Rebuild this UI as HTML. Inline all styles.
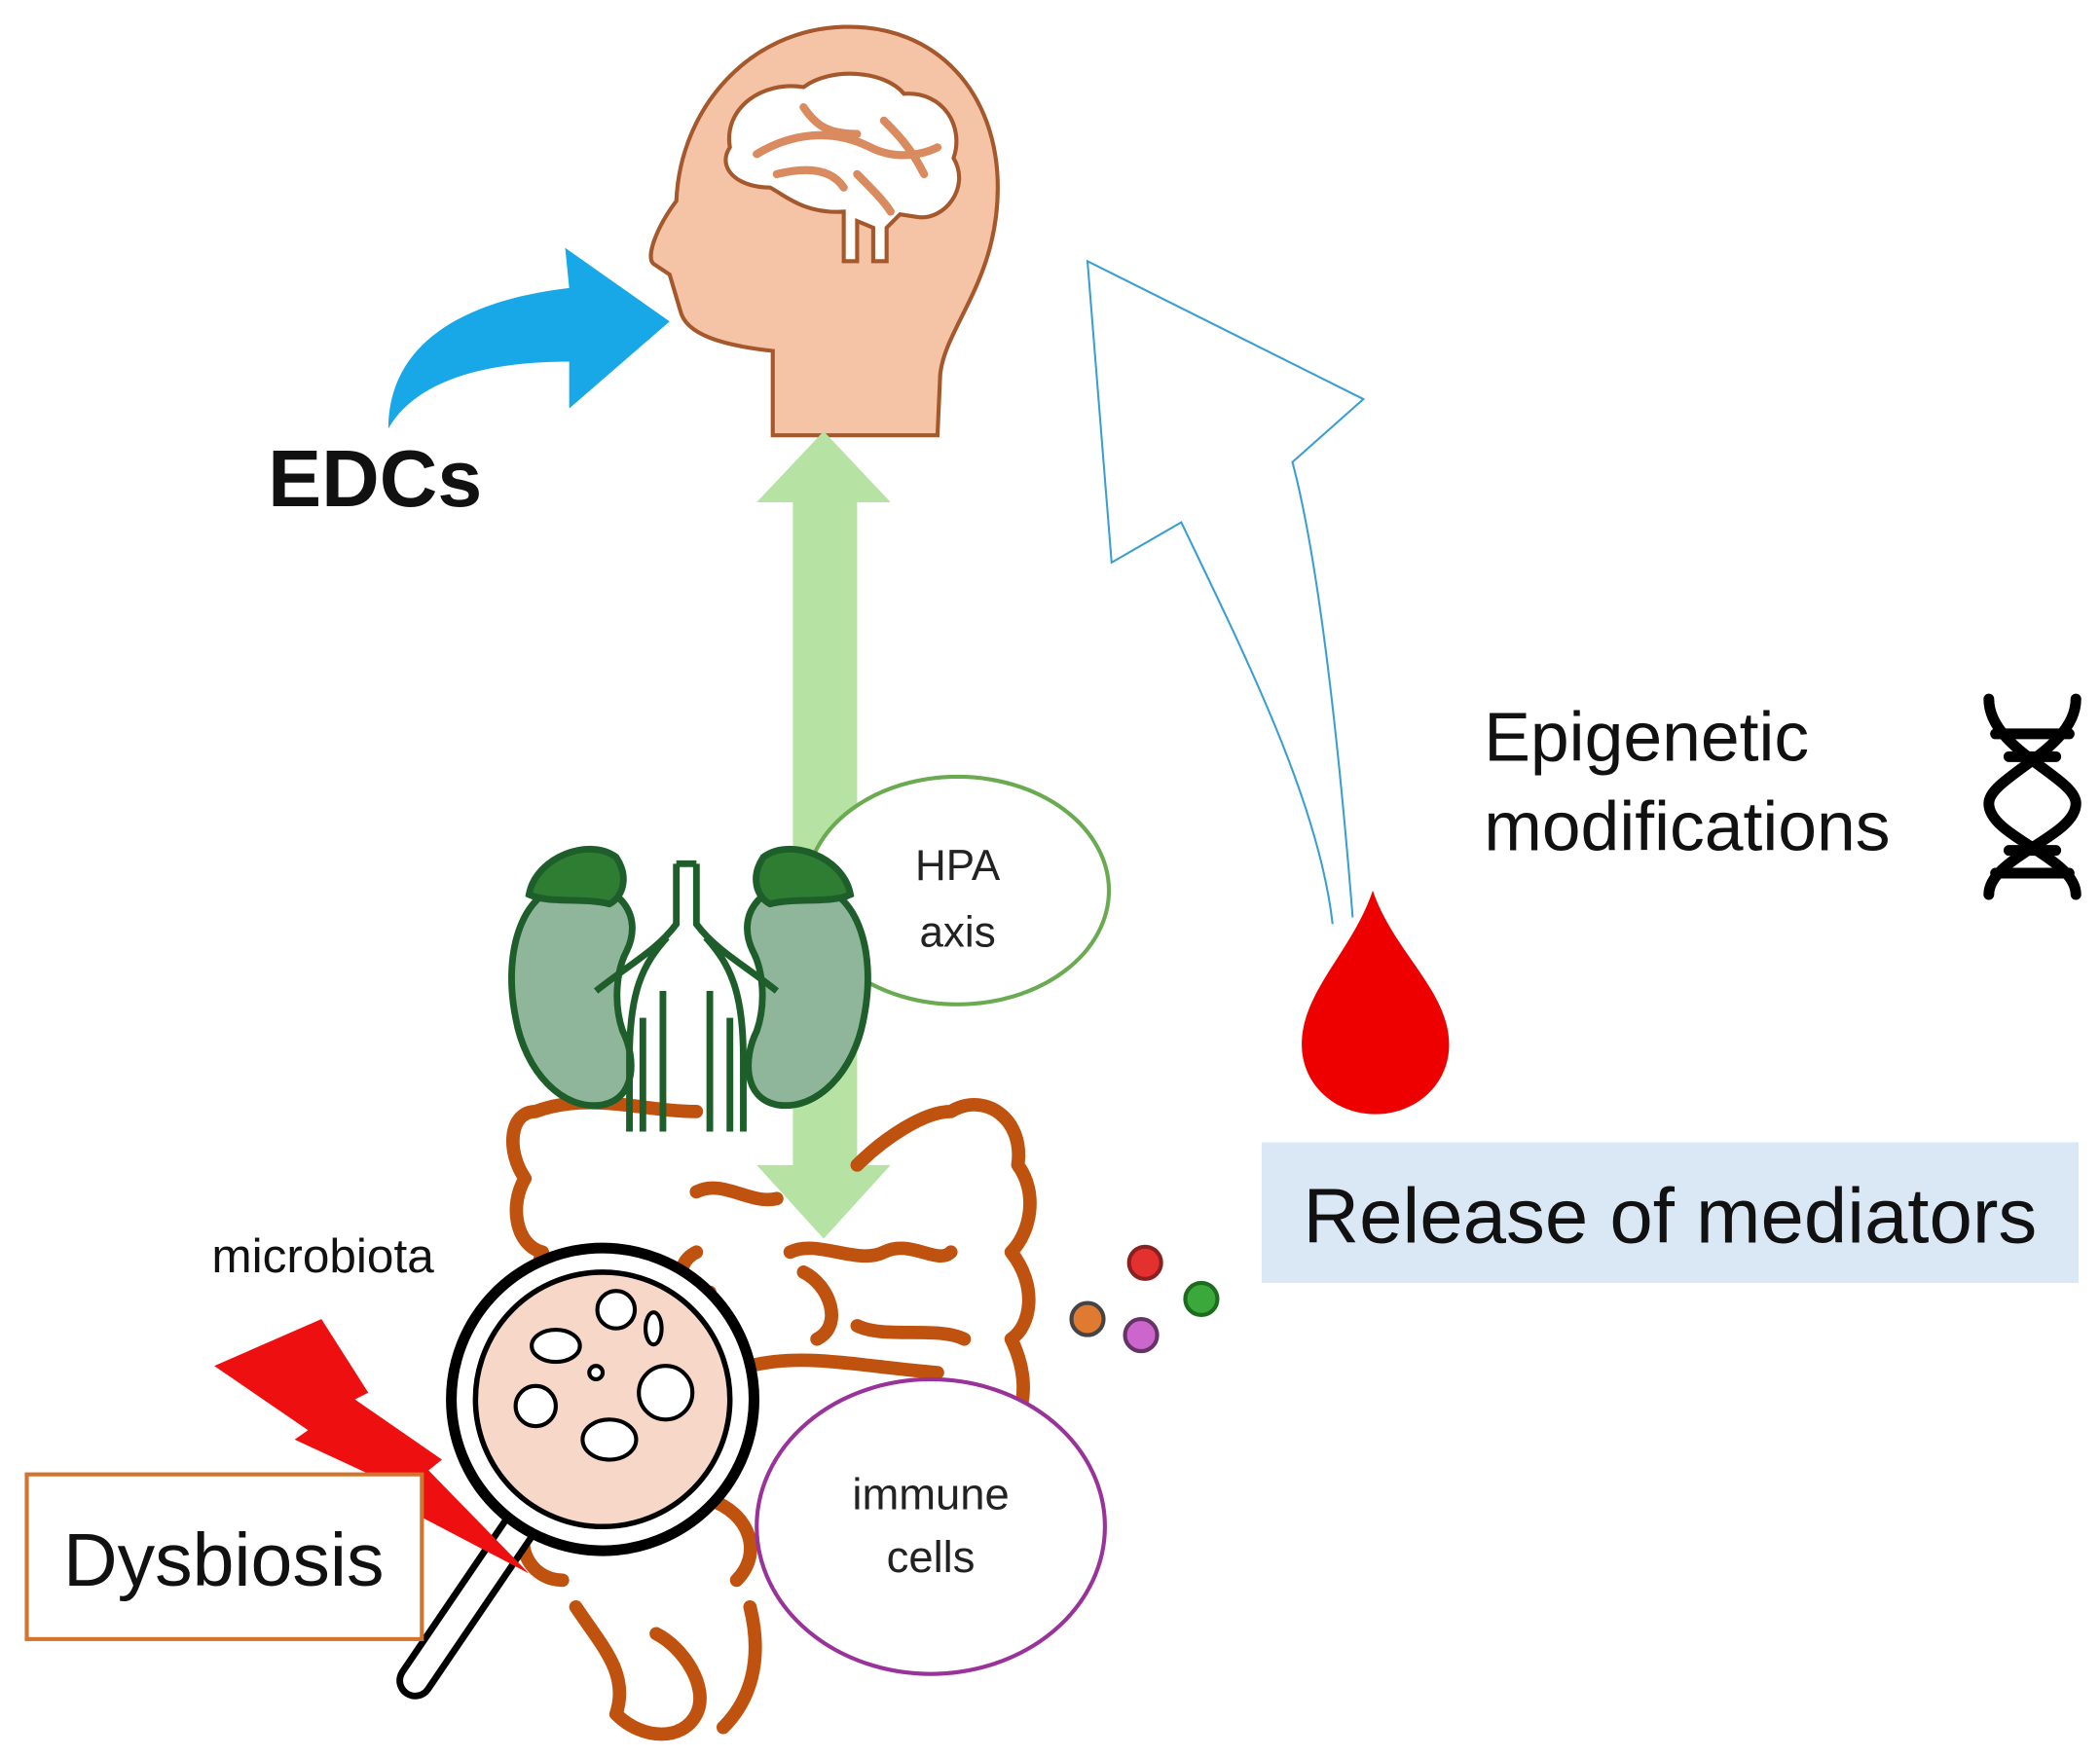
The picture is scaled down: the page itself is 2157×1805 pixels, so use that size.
<!DOCTYPE html>
<html><head><meta charset="utf-8"><style>html,body{margin:0;padding:0;background:#fff}svg{display:block}</style></head>
<body>
<svg width="2157" height="1805" viewBox="0 0 1568 1312" xmlns="http://www.w3.org/2000/svg">
<rect width="1568" height="1312" fill="#fff"/>
<path d="M577,325 L577,262 C540,258 512,250 508,232 L500,205 L488,197 C482,192 490,170 505,150 C508,80 560,22 630,20 C700,18 745,70 745,140 C745,210 705,245 702,280 L700,325 Z" fill="#f5c3a6" stroke="#a5582b" stroke-width="3"/>
<path d="M545,110 C540,80 570,60 600,65 C620,50 660,52 675,70 C705,68 720,95 712,118 C725,140 705,165 685,162 L672,160 L662,170 L662,195 L652,195 L652,170 L640,165 L640,195 L630,195 L630,158 C600,160 585,145 575,140 C550,140 535,125 545,110 Z" fill="#fff" stroke="#a5582b" stroke-width="3"/>
<path d="M565,115 C590,100 620,95 650,110 C670,120 690,115 700,110 M600,80 C610,95 620,100 640,100 M660,90 C670,100 680,110 690,130 M640,130 C650,140 660,150 665,158 M580,130 C600,125 620,125 630,140" fill="none" stroke="#d98a5e" stroke-width="6" stroke-linecap="round"/>
<path d="M290,320 C290,260 340,225 425,215 L422,185 L500,240 L425,305 L425,270 C360,270 310,285 290,320 Z" fill="#18a8e8"/>
<text x="200" y="378" font-family="Liberation Sans, sans-serif" font-weight="bold" font-size="60" fill="#111">EDCs</text>
<path d="M615,322 L665,375 L640,375 L640,870 L665,870 L615,925 L565,870 L592,870 L592,375 L565,375 Z" fill="#b6e3a4"/>
<ellipse cx="715" cy="665" rx="113" ry="85" fill="#fff" stroke="#6aab52" stroke-width="3"/>
<text x="715" y="657" text-anchor="middle" font-family="Liberation Sans, sans-serif" font-size="32" fill="#222">HPA</text>
<text x="715" y="707" text-anchor="middle" font-family="Liberation Sans, sans-serif" font-size="32" fill="#222">axis</text>
<g fill="none" stroke="#c0520f" stroke-width="10" stroke-linecap="round" stroke-linejoin="round">
<path d="M400,830 C380,830 378,860 392,880 C380,900 385,930 405,935 C395,960 410,985 430,975 M400,830 C440,815 480,830 520,830 M640,870 C660,850 690,830 710,830 C735,815 765,835 760,870 C775,890 770,920 755,935 C775,960 770,990 755,1000 C770,1030 765,1060 750,1070 C770,1100 760,1140 740,1150"/>
<path d="M520,890 C540,880 560,900 580,895 M590,935 C610,925 640,945 660,935 C680,925 700,945 710,935 M520,935 C500,945 510,970 530,965 M600,950 C620,960 630,990 610,1000 M640,990 C660,1000 700,990 720,1000 M560,1020 C600,1010 640,1020 700,1025 M400,1130 C380,1150 395,1180 420,1180 M430,1200 C450,1230 470,1250 460,1280 C480,1300 510,1300 520,1280 C530,1260 510,1230 490,1220 M530,1120 C560,1130 570,1160 550,1180 M560,1200 C570,1240 560,1270 540,1290"/>
</g>
<g stroke="#1e5e2a" stroke-width="5">
<path d="M430,660 C390,660 375,710 385,760 C392,800 420,830 450,825 C475,820 475,790 465,770 C458,750 460,725 468,710 C480,685 465,660 430,660 Z" fill="#8fb69a"/>
<path d="M600,660 C640,660 655,710 645,760 C638,800 610,830 580,825 C555,820 555,790 565,770 C572,750 570,725 562,710 C550,685 565,660 600,660 Z" fill="#8fb69a"/>
<path d="M395,668 C400,640 440,625 460,640 C470,655 465,670 455,675 C435,670 410,675 395,668 Z" fill="#2e7d32"/>
<path d="M635,668 C630,640 590,625 570,640 C560,655 565,670 575,675 C595,670 620,675 635,668 Z" fill="#2e7d32"/>
</g>
<g fill="none" stroke="#1e5e2a" stroke-width="5">
<path d="M505,645 L505,690 C490,710 470,720 445,740 M520,645 L520,690 C535,710 555,720 580,740 M505,645 L520,645"/>
<path d="M498,700 C480,720 470,740 470,790 L470,845 M527,700 C545,720 555,740 555,790 L555,845 M495,740 L495,845 M530,740 L530,845 M480,760 L480,845 M545,760 L545,845"/>
</g>
<line x1="395" y1="1130" x2="310" y2="1255" stroke="#000" stroke-width="28" stroke-linecap="round"/>
<line x1="395" y1="1130" x2="310" y2="1255" stroke="#fff" stroke-width="18" stroke-linecap="round"/>
<circle cx="450" cy="1045" r="113" fill="#fff" stroke="#000" stroke-width="8"/>
<circle cx="450" cy="1045" r="95" fill="#f7d8c8" stroke="#000" stroke-width="4"/>
<g fill="#fff" stroke="#000" stroke-width="3">
<circle cx="460" cy="978" r="14"/><circle cx="497" cy="1040" r="20"/><circle cx="400" cy="1050" r="15"/>
<ellipse cx="415" cy="1005" rx="18" ry="12"/><ellipse cx="488" cy="992" rx="6" ry="12"/>
<ellipse cx="455" cy="1075" rx="20" ry="15"/><circle cx="445" cy="1025" r="5"/>
</g>
<path d="M160,1020 L240,985 L275,1040 L265,1045 L330,1090 L320,1098 L395,1175 L290,1120 L300,1112 L220,1075 L230,1068 Z" fill="#ee1010"/>
<text x="158" y="950" font-family="Liberation Sans, sans-serif" font-size="36" fill="#111">microbiota</text>
<rect x="20" y="1101" width="295" height="123" fill="#fff" stroke="#d2742e" stroke-width="3"/>
<text x="167" y="1184" text-anchor="middle" font-family="Liberation Sans, sans-serif" font-size="56" fill="#111">Dysbiosis</text>
<ellipse cx="695" cy="1140" rx="130" ry="110" fill="#fff" stroke="#993399" stroke-width="3"/>
<text x="695" y="1127" text-anchor="middle" font-family="Liberation Sans, sans-serif" font-size="33" fill="#222">immune</text>
<text x="695" y="1174" text-anchor="middle" font-family="Liberation Sans, sans-serif" font-size="33" fill="#222">cells</text>
<circle cx="855" cy="943" r="12" fill="#e53030" stroke="#8b2020" stroke-width="3"/>
<circle cx="897" cy="970" r="12" fill="#3aa83a" stroke="#1d6b1d" stroke-width="3"/>
<circle cx="812" cy="985" r="12" fill="#e07a30" stroke="#444" stroke-width="3"/>
<circle cx="852" cy="997" r="12" fill="#cc66cc" stroke="#663366" stroke-width="3"/>
<rect x="942" y="853" width="610" height="105" fill="#dae7f5"/>
<text x="1247" y="928" text-anchor="middle" font-family="Liberation Sans, sans-serif" font-size="58" fill="#111">Release of mediators</text>
<path d="M1010,685 C1000,560 985,420 965,345 L1018,298 L812,195 L830,420 L882,390 C930,490 985,600 995,690" fill="#fff" stroke="#3a9fd0" stroke-width="1.5"/>
<path d="M1025,665 C1010,710 972,740 972,780 C972,810 997,832 1027,832 C1057,832 1082,810 1082,780 C1082,740 1040,710 1025,665 Z" fill="#ee0000"/>
<text x="1108" y="568" font-family="Liberation Sans, sans-serif" font-size="52" fill="#111">Epigenetic</text>
<text x="1108" y="635" font-family="Liberation Sans, sans-serif" font-size="52" fill="#111">modifications</text>
<g fill="none" stroke="#000" stroke-width="8" stroke-linecap="round">
<path d="M1485,522 C1485,560 1550,580 1550,600 C1550,625 1485,640 1485,668"/>
<path d="M1550,522 C1550,560 1485,580 1485,600 C1485,625 1550,640 1550,668"/>
<path d="M1490,548 L1545,548 M1500,565 L1535,565 M1500,635 L1535,635 M1490,652 L1545,652"/>
</g>
</svg>
</body></html>
